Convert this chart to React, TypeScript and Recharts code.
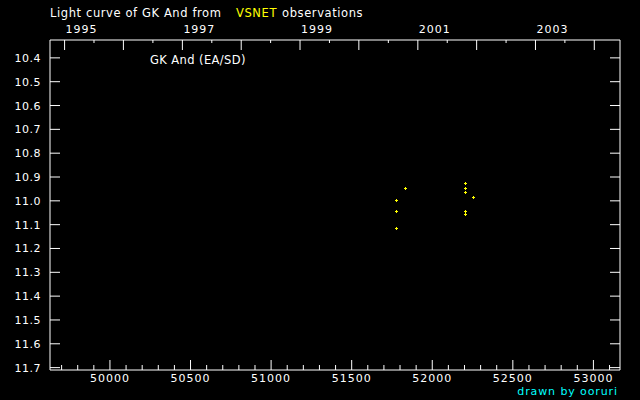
import React from "react";
import { ScatterChart, Scatter, XAxis, YAxis } from "recharts";

// JD - 2400000 and V magnitude of the VSNET observations
const jdValues = [51833, 51777, 51777, 51777, 52205, 52205, 52205, 52255, 52205, 52205];
const magValues = [10.947, 10.997, 11.044, 11.115, 10.926, 10.947, 10.964, 10.985, 11.044, 11.056];

const jdTicks = [
  49700, 49800, 49900, 50000, 50100, 50200, 50300, 50400, 50500, 50600, 50700,
  50800, 50900, 51000, 51100, 51200, 51300, 51400, 51500, 51600, 51700, 51800,
  51900, 52000, 52100, 52200, 52300, 52400, 52500, 52600, 52700, 52800, 52900,
  53000, 53100,
];

// Jan 1 of each year (JD - 2400000)
const yearStarts = [49718.5, 50083.5, 50449.5, 50814.5, 51179.5, 51544.5, 51910.5, 52275.5, 52640.5, 53005.5];
const yearNames = [1995, 1996, 1997, 1998, 1999, 2000, 2001, 2002, 2003, 2004];
const halfYears = [49901, 50266.5, 50632, 50997, 51362, 51727.5, 52093, 52458, 52823];

const magTicks = [10.4, 10.5, 10.6, 10.7, 10.8, 10.9, 11.0, 11.1, 11.2, 11.3, 11.4, 11.5, 11.6, 11.7];

const data = jdValues.map((jd, i) => ({ jd, mag: magValues[i] }));

const FONT = "'DejaVu Sans', sans-serif";
const xDomain = [49628, 53165];
const yDomain = [10.325, 11.71];

const BottomTick = ({ x, y, payload }: any) => {
  const v = payload.value;
  const major = v % 500 === 0;
  return (
    <g>
      <line x1={x} x2={x} y1={y} y2={y - (major ? 10 : 5)} stroke="#fff" />
      {major && (
        <text x={x} y={y + 12} textAnchor="middle" fill="#fff" fontSize={11} letterSpacing={1} fontFamily={FONT}>
          {v}
        </text>
      )}
    </g>
  );
};

const TopTick = ({ x, y, payload }: any) => {
  const idx = yearStarts.indexOf(payload.value);
  const major = idx >= 0;
  const year = major ? yearNames[idx] : 0;
  return (
    <g>
      <line x1={x} x2={x} y1={y} y2={y + (major ? 10 : 3)} stroke="#fff" />
      {major && year % 2 === 1 && (
        <text x={x + 1} y={y - 7.5} textAnchor="start" fill="#fff" fontSize={11} letterSpacing={1} fontFamily={FONT}>
          {year}
        </text>
      )}
    </g>
  );
};

const LeftTick = ({ x, y, payload }: any) => (
  <g>
    <line x1={x} x2={x + 10} y1={y} y2={y} stroke="#fff" />
    <text x={x - 9} y={y + 4} textAnchor="end" fill="#fff" fontSize={11} letterSpacing={0.5} fontFamily={FONT}>
      {payload.value.toFixed(1)}
    </text>
  </g>
);

const RightTick = ({ x, y }: any) => (
  <line x1={x} x2={x - 10} y1={y} y2={y} stroke="#fff" />
);

const Plus = ({ cx, cy }: any) => {
  const px = Math.round(cx);
  const py = Math.round(cy);
  return (
    <g fill="#ffff00">
      <rect x={px - 1} y={py} width={3} height={1} />
      <rect x={px} y={py - 1} width={1} height={3} />
    </g>
  );
};

const Nothing = () => <g />;

export default function App() {
  return (
    <div style={{ position: "absolute", left: 0, top: 0, width: 640, height: 400, background: "#000" }}>
      <ScatterChart width={640} height={400} margin={{ top: 0, right: 0, bottom: 0, left: 0 }}>
        <XAxis
          xAxisId="jd"
          dataKey="jd"
          type="number"
          domain={xDomain}
          allowDataOverflow
          ticks={jdTicks}
          interval={0}
          height={30}
          tickSize={0}
          tickMargin={0}
          tickLine={false}
          axisLine={{ stroke: "#fff" }}
          tick={<BottomTick />}
        />
        <XAxis
          xAxisId="year"
          dataKey="jd"
          orientation="top"
          type="number"
          domain={xDomain}
          allowDataOverflow
          ticks={[...yearStarts, ...halfYears]}
          interval={0}
          height={40}
          tickSize={0}
          tickMargin={0}
          tickLine={false}
          axisLine={{ stroke: "#fff" }}
          tick={<TopTick />}
        />
        <YAxis
          yAxisId="mag"
          dataKey="mag"
          type="number"
          domain={yDomain}
          allowDataOverflow
          reversed
          ticks={magTicks}
          interval={0}
          width={50}
          tickSize={0}
          tickMargin={0}
          tickLine={false}
          axisLine={{ stroke: "#fff" }}
          tick={<LeftTick />}
        />
        <YAxis
          yAxisId="right"
          dataKey="mag"
          orientation="right"
          type="number"
          domain={yDomain}
          allowDataOverflow
          reversed
          ticks={magTicks}
          interval={0}
          width={20}
          tickSize={0}
          tickMargin={0}
          tickLine={false}
          axisLine={{ stroke: "#fff" }}
          tick={<RightTick />}
        />
        <Scatter
          xAxisId="year"
          yAxisId="right"
          data={data}
          shape={<Nothing />}
          isAnimationActive={false}
        />
        <Scatter
          xAxisId="jd"
          yAxisId="mag"
          data={data}
          fill="#ffff00"
          shape={<Plus />}
          isAnimationActive={false}
        />
      </ScatterChart>
      <svg width={640} height={400} style={{ position: "absolute", left: 0, top: 0, pointerEvents: "none" }}>
        <text x={50} y={16.5} fill="#fff" fontSize={11.5} letterSpacing={0.6} fontFamily={FONT}>
          Light curve of GK And from
        </text>
        <text x={236} y={16.5} fill="#ffff00" fontSize={11.5} letterSpacing={0.6} fontFamily={FONT}>
          VSNET
        </text>
        <text x={282} y={16.5} fill="#fff" fontSize={11.5} letterSpacing={0.6} fontFamily={FONT}>
          observations
        </text>
        <text x={150} y={64} fill="#fff" fontSize={11.5} letterSpacing={0.4} fontFamily={FONT}>
          GK And (EA/SD)
        </text>
        <text x={618} y={394.5} textAnchor="end" fill="#00ffff" fontSize={11} letterSpacing={0.9} fontFamily={FONT}>
          drawn by ooruri
        </text>
      </svg>
    </div>
  );
}
